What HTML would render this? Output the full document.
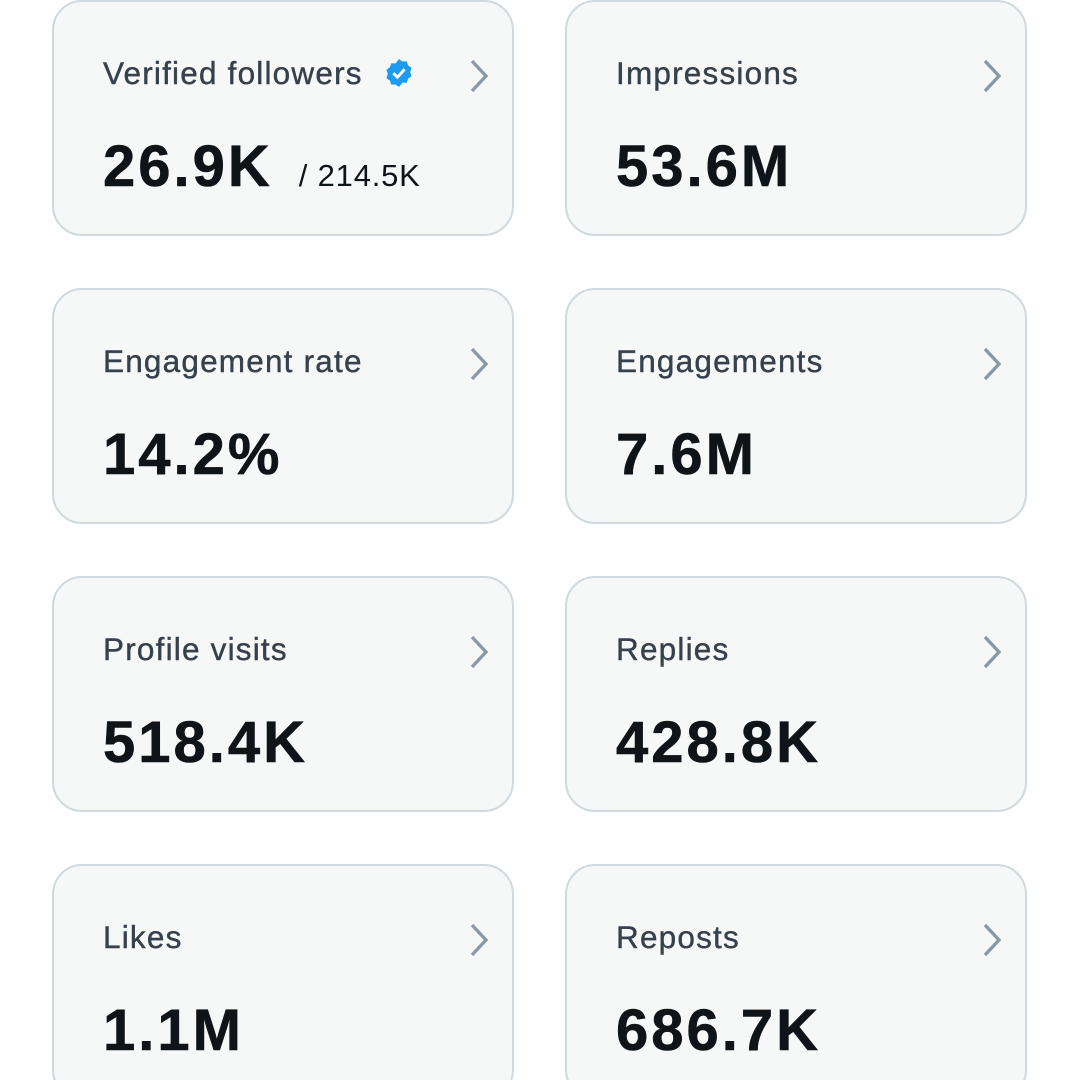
<!DOCTYPE html>
<html><head><meta charset="utf-8"><style>
html,body{margin:0;padding:0;background:#fff;width:1080px;height:1080px;overflow:hidden;position:relative;font-family:"Liberation Sans",Arial,sans-serif}
.c{position:absolute;width:458px;height:232px;border:2.5px solid #cfd9de;border-radius:30px;background:#f6f8f8;box-sizing:content-box}
.t{position:absolute;left:49px;top:53px;font-size:31.5px;line-height:36px;color:#36414c;letter-spacing:1.2px;-webkit-text-stroke:0.4px #36414c}
.v{position:absolute;left:49px;top:132px;font-size:58px;font-weight:bold;line-height:66px;color:#0f1419;letter-spacing:3px;-webkit-text-stroke:0.6px #0f1419}
.s{font-size:31px;font-weight:normal;letter-spacing:0.8px;margin-left:26px;-webkit-text-stroke:0}
.ch{position:absolute;left:412px;top:56px}
</style></head><body>
<div class="c" style="left:52px;top:0px"><div class="t">Verified followers <svg width="32" height="32" viewBox="0 0 24 24" style="vertical-align:-5px;margin-left:10px"><path fill="#1d9bf0" d="M12 1.5l2.6 1.9 3.2-.1 1 3 2.6 1.9-1 3.1 1 3.1-2.6 1.9-1 3-3.2-.1L12 22.5l-2.6-1.9-3.2.1-1-3-2.6-1.9 1-3.1-1-3.1 2.6-1.9 1-3 3.2.1z"/><path d="M7.8 12.2l3 3 5.4-6" stroke="#fff" stroke-width="2.2" fill="none"/></svg></div><div class="v">26.9K<span class="s">/ 214.5K</span></div><svg class="ch" width="26" height="36"><path d="M6 3l14 15-14 15" stroke="#8b98a5" stroke-width="3.4" fill="none"/></svg></div>
<div class="c" style="left:565px;top:0px"><div class="t">Impressions</div><div class="v">53.6M</div><svg class="ch" width="26" height="36"><path d="M6 3l14 15-14 15" stroke="#8b98a5" stroke-width="3.4" fill="none"/></svg></div>
<div class="c" style="left:52px;top:288px"><div class="t">Engagement rate</div><div class="v">14.2%</div><svg class="ch" width="26" height="36"><path d="M6 3l14 15-14 15" stroke="#8b98a5" stroke-width="3.4" fill="none"/></svg></div>
<div class="c" style="left:565px;top:288px"><div class="t">Engagements</div><div class="v">7.6M</div><svg class="ch" width="26" height="36"><path d="M6 3l14 15-14 15" stroke="#8b98a5" stroke-width="3.4" fill="none"/></svg></div>
<div class="c" style="left:52px;top:576px"><div class="t">Profile visits</div><div class="v">518.4K</div><svg class="ch" width="26" height="36"><path d="M6 3l14 15-14 15" stroke="#8b98a5" stroke-width="3.4" fill="none"/></svg></div>
<div class="c" style="left:565px;top:576px"><div class="t">Replies</div><div class="v">428.8K</div><svg class="ch" width="26" height="36"><path d="M6 3l14 15-14 15" stroke="#8b98a5" stroke-width="3.4" fill="none"/></svg></div>
<div class="c" style="left:52px;top:864px"><div class="t">Likes</div><div class="v">1.1M</div><svg class="ch" width="26" height="36"><path d="M6 3l14 15-14 15" stroke="#8b98a5" stroke-width="3.4" fill="none"/></svg></div>
<div class="c" style="left:565px;top:864px"><div class="t">Reposts</div><div class="v">686.7K</div><svg class="ch" width="26" height="36"><path d="M6 3l14 15-14 15" stroke="#8b98a5" stroke-width="3.4" fill="none"/></svg></div>
</body></html>
